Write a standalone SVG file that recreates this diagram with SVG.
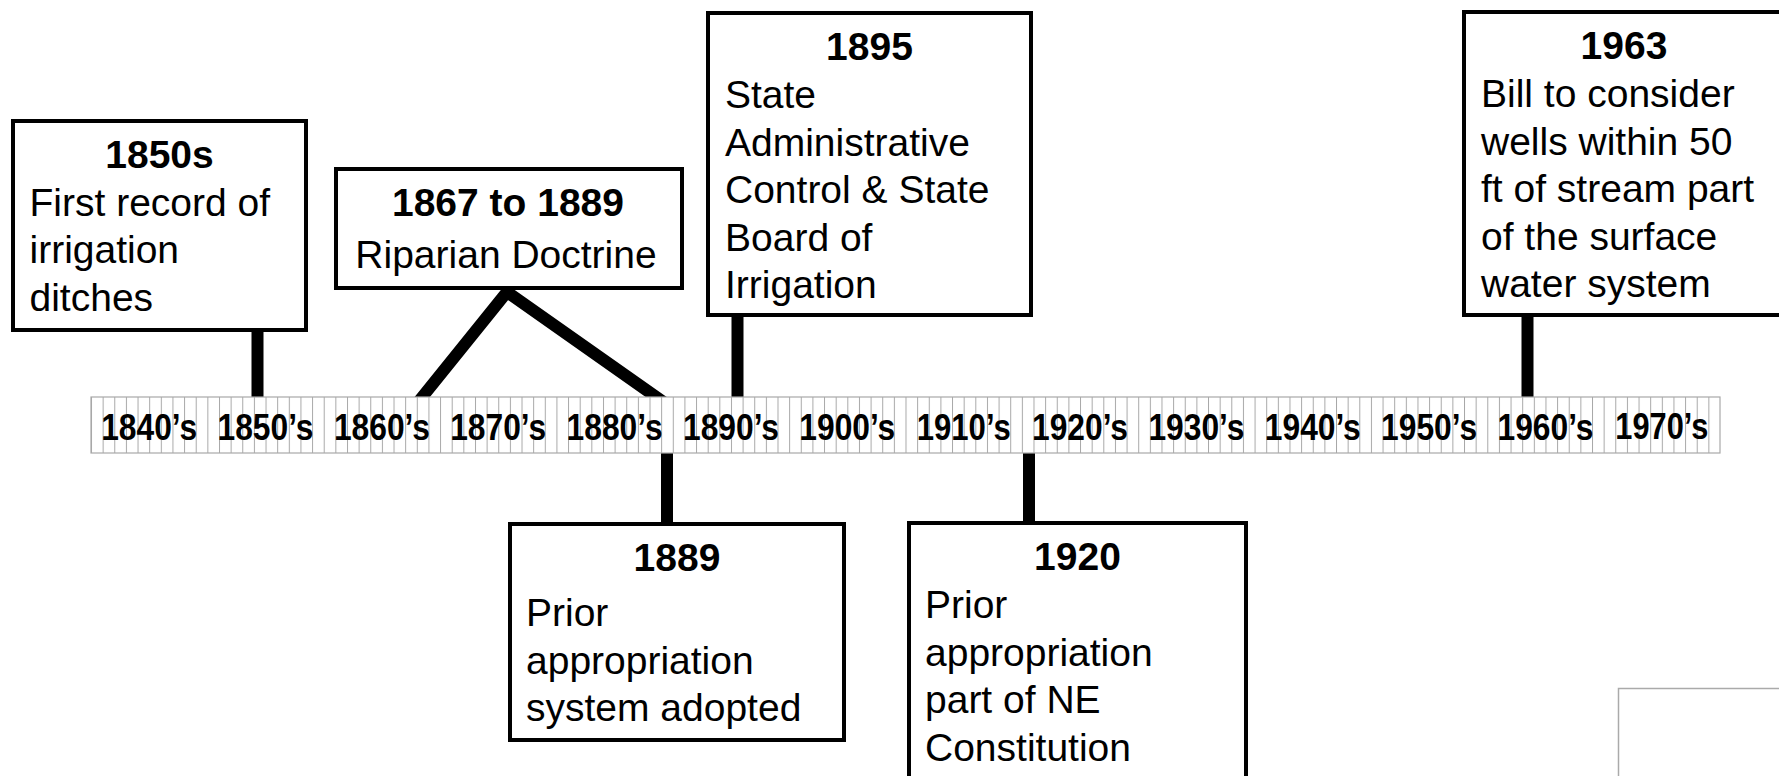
<svg xmlns="http://www.w3.org/2000/svg" width="1779" height="776" viewBox="0 0 1779 776">
<style>
.box{fill:#fff;stroke:#000;stroke-width:4}
.t{font-family:"Liberation Sans",Arial,sans-serif;font-size:39px;fill:#000}
.b{font-weight:bold;text-anchor:middle}
.c{text-anchor:middle}
.yr{font-family:"Liberation Sans",Arial,sans-serif;font-size:36px;font-weight:bold;text-anchor:middle;fill:#000}
.stem{stroke:#000;stroke-width:12;fill:none}
</style>
<defs>
<pattern id="ticks" patternUnits="userSpaceOnUse" x="91" y="0" width="11.6357" height="776">
<line x1="0.5" y1="0" x2="0.5" y2="776" stroke="#a8a8a8" stroke-width="1"/>
</pattern>
</defs>
<rect width="1779" height="776" fill="#fff"/>
<g id="connectors">
<line class="stem" x1="257.5" y1="330" x2="257.5" y2="397"/>
<polyline class="stem" points="415,406 507,292 669,406" stroke-linejoin="miter"/>
<line class="stem" x1="737.5" y1="315" x2="737.5" y2="397"/>
<line class="stem" x1="1527.5" y1="315" x2="1527.5" y2="397"/>
<line class="stem" x1="667" y1="453" x2="667" y2="523"/>
<line class="stem" x1="1029" y1="453" x2="1029" y2="522"/>
</g>
<g id="timeline">
<rect x="91" y="397" width="1629" height="56" fill="#fff"/>
<rect x="91" y="397" width="1629" height="56" fill="url(#ticks)" stroke="#a8a8a8" stroke-width="1.2"/>
<text class="yr" x="149.2" y="440" textLength="96" lengthAdjust="spacingAndGlyphs">1840’s</text>
<text class="yr" x="265.5" y="440" textLength="96" lengthAdjust="spacingAndGlyphs">1850’s</text>
<text class="yr" x="381.9" y="440" textLength="96" lengthAdjust="spacingAndGlyphs">1860’s</text>
<text class="yr" x="498.2" y="440" textLength="96" lengthAdjust="spacingAndGlyphs">1870’s</text>
<text class="yr" x="614.6" y="440" textLength="96" lengthAdjust="spacingAndGlyphs">1880’s</text>
<text class="yr" x="731.0" y="440" textLength="96" lengthAdjust="spacingAndGlyphs">1890’s</text>
<text class="yr" x="847.3" y="440" textLength="96" lengthAdjust="spacingAndGlyphs">1900’s</text>
<text class="yr" x="963.7" y="440" textLength="94" lengthAdjust="spacingAndGlyphs">1910’s</text>
<text class="yr" x="1080.0" y="440" textLength="96" lengthAdjust="spacingAndGlyphs">1920’s</text>
<text class="yr" x="1196.4" y="440" textLength="96" lengthAdjust="spacingAndGlyphs">1930’s</text>
<text class="yr" x="1312.8" y="440" textLength="96" lengthAdjust="spacingAndGlyphs">1940’s</text>
<text class="yr" x="1429.1" y="440" textLength="96" lengthAdjust="spacingAndGlyphs">1950’s</text>
<text class="yr" x="1545.5" y="440" textLength="96" lengthAdjust="spacingAndGlyphs">1960’s</text>
<text class="yr" x="1661.8" y="439" textLength="93" lengthAdjust="spacingAndGlyphs">1970’s</text>
</g>
<g id="node-1850s">
<rect class="box" x="13" y="121" width="293" height="209"/>
<text class="t b" x="159.5" y="168">1850s</text>
<text class="t" x="29.5" y="215.7">First record of</text>
<text class="t" x="29.5" y="263.4">irrigation</text>
<text class="t" x="29.5" y="311">ditches</text>
</g>
<g id="node-1867">
<rect class="box" x="336" y="169" width="346" height="119"/>
<text class="t b" x="508" y="215.6">1867 to 1889</text>
<text class="t c" x="506" y="268">Riparian Doctrine</text>
</g>
<g id="node-1895">
<rect class="box" x="708" y="13" width="323" height="302"/>
<text class="t b" x="869.5" y="60">1895</text>
<text class="t" x="725" y="108">State</text>
<text class="t" x="725" y="155.5">Administrative</text>
<text class="t" x="725" y="203">Control &amp; State</text>
<text class="t" x="725" y="250.7">Board of</text>
<text class="t" x="725" y="298.4">Irrigation</text>
</g>
<g id="node-1963">
<rect class="box" x="1464" y="12" width="340" height="303"/>
<text class="t b" x="1624" y="59">1963</text>
<text class="t" x="1481" y="107">Bill to consider</text>
<text class="t" x="1481" y="154.5">wells within 50</text>
<text class="t" x="1481" y="202">ft of stream part</text>
<text class="t" x="1481" y="249.7">of the surface</text>
<text class="t" x="1481" y="297.4">water system</text>
</g>
<g id="node-1889">
<rect class="box" x="510" y="524" width="334" height="216"/>
<text class="t b" x="677" y="571">1889</text>
<text class="t" x="526" y="626">Prior</text>
<text class="t" x="526" y="673.7">appropriation</text>
<text class="t" x="526" y="721.4">system adopted</text>
</g>
<g id="node-1920">
<rect class="box" x="909" y="523" width="337" height="280"/>
<text class="t b" x="1077.5" y="570">1920</text>
<text class="t" x="925" y="618">Prior</text>
<text class="t" x="925" y="665.7">appropriation</text>
<text class="t" x="925" y="713.4">part of NE</text>
<text class="t" x="925" y="761">Constitution</text>
</g>
<rect x="1618.5" y="688.5" width="200" height="120" fill="none" stroke="#aaa" stroke-width="1.5"/>
</svg>
